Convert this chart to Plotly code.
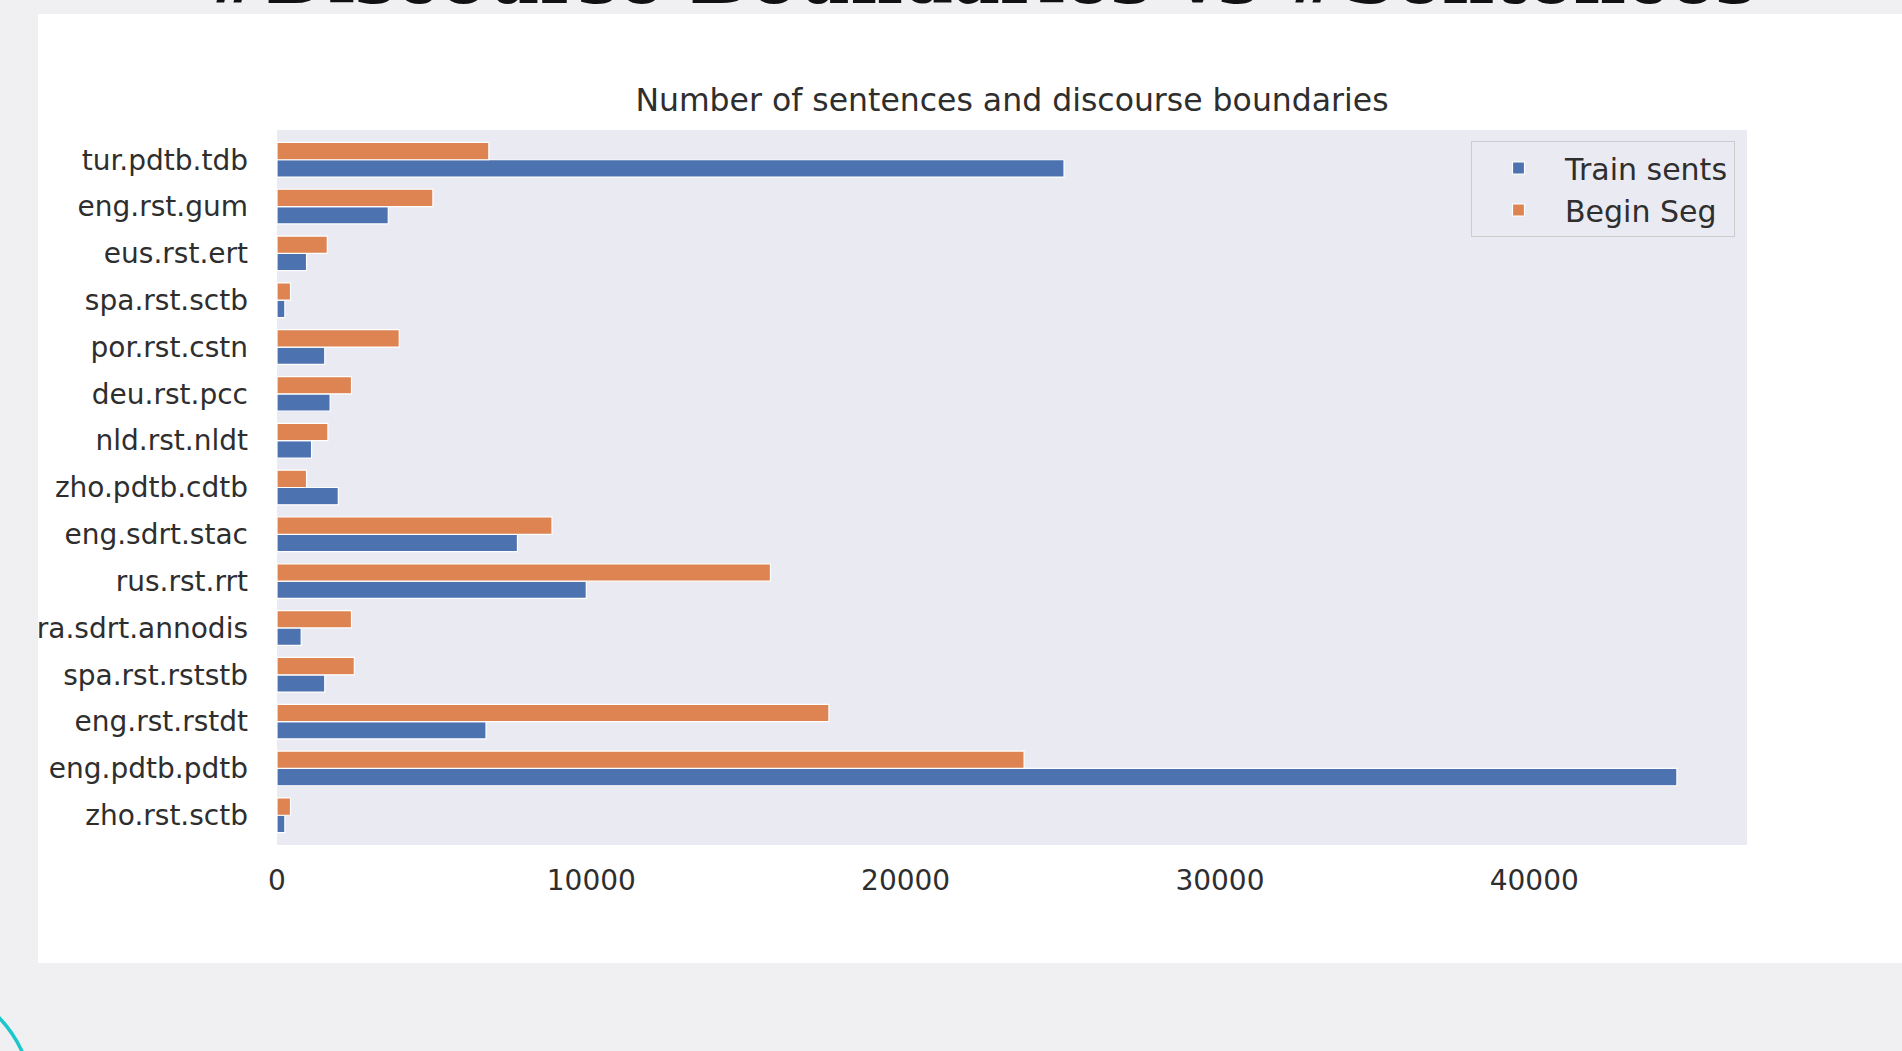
import plotly.graph_objects as go

# ---- data (bottom to top, as drawn) ----
categories = ["zho.rst.sctb", "eng.pdtb.pdtb", "eng.rst.rstdt", "spa.rst.rststb",
              "fra.sdrt.annodis", "rus.rst.rrt", "eng.sdrt.stac", "zho.pdtb.cdtb",
              "nld.rst.nldt", "deu.rst.pcc", "por.rst.cstn", "spa.rst.sctb",
              "eus.rst.ert", "eng.rst.gum", "tur.pdtb.tdb"]
train_sents = [250, 44540, 6650, 1520, 770, 9840, 7650, 1950,
               1100, 1690, 1520, 250, 940, 3540, 25040]
begin_seg = [430, 23770, 17560, 2460, 2370, 15700, 8750, 940,
             1620, 2370, 3890, 430, 1600, 4960, 6740]
x_ticks = [0, 10000, 20000, 30000, 40000]

W, H = 1902, 1051
ML, MR, MT, MB = 277, 155, 130, 206
PW, PH = W - ML - MR, H - MT - MB


def px_x(p):
    return (p - ML) / PW


def px_y(p):
    return (H - MB - p) / PH


BLUE = "#4c72b0"
ORANGE = "#dd8452"
TXT = "#2e2e2e"
SLIDE = "#f0f0f2"

fig = go.Figure()
fig.add_trace(go.Bar(y=categories, x=train_sents, orientation="h", name="Train sents",
                     marker=dict(color=BLUE, line=dict(color="white", width=1.2)),
                     legendgroup="a"))
fig.add_trace(go.Bar(y=categories, x=begin_seg, orientation="h", name="Begin Seg",
                     marker=dict(color=ORANGE, line=dict(color="white", width=1.2)),
                     legendgroup="b"))

fig.update_layout(
    width=W, height=H,
    margin=dict(l=ML, r=MR, t=MT, b=MB, pad=0),
    paper_bgcolor="white",
    plot_bgcolor="#eaeaf2",
    barmode="group", bargap=0.26, bargroupgap=0,
    font=dict(family="DejaVu Sans", color=TXT, size=28),
    title=dict(text="Number of sentences and discourse boundaries",
               x=1012 / W, xanchor="center",
               y=1 - 99.5 / H, yanchor="middle",
               font=dict(family="DejaVu Sans", size=31.5, color=TXT)),
    xaxis=dict(range=[0, 46770], tickvals=x_ticks, ticktext=[str(v) for v in x_ticks],
               showgrid=False, zeroline=False, showline=False, ticks="",
               ticklabelstandoff=16, tickfont=dict(size=28, color=TXT)),
    yaxis=dict(categoryorder="array", categoryarray=categories,
               range=[-0.635, 14.635], showgrid=False, zeroline=False, showline=False,
               ticks="", ticklabelstandoff=28, tickfont=dict(size=28, color=TXT)),
    legend=dict(x=px_x(1735), xanchor="right", y=px_y(141), yanchor="top",
                bgcolor="#eaeaf2", bordercolor="#cccccc", borderwidth=1,
                font=dict(size=30, color=TXT), tracegroupgap=9, traceorder="normal",
                itemwidth=83),
    showlegend=True,
)

shapes = [
    # slide background strips around the white panel
    dict(type="rect", xref="paper", yref="paper", x0=px_x(-5), x1=px_x(38),
         y0=px_y(H + 5), y1=px_y(-5), fillcolor=SLIDE, line=dict(width=0), layer="above"),
    dict(type="rect", xref="paper", yref="paper", x0=px_x(-5), x1=px_x(W + 5),
         y0=px_y(14), y1=px_y(-5), fillcolor=SLIDE, line=dict(width=0), layer="above"),
    dict(type="rect", xref="paper", yref="paper", x0=px_x(-5), x1=px_x(W + 5),
         y0=px_y(H + 5), y1=px_y(963), fillcolor=SLIDE, line=dict(width=0), layer="above"),
    # decorative teal ring at the bottom-left corner
    dict(type="circle", xref="paper", yref="paper", x0=px_x(-211), x1=px_x(33),
         y0=px_y(1224), y1=px_y(980), line=dict(color="#1cc7cb", width=3.5),
         fillcolor="rgba(0,0,0,0)", layer="above"),
]
fig.update_layout(shapes=shapes)

fig.add_annotation(text="#Discourse Boundaries vs #Sentences", xref="paper", yref="paper",
                   x=px_x(980), xanchor="center", y=px_y(22), yanchor="bottom",
                   showarrow=False,
                   font=dict(family="DejaVu Serif", size=72, color="#111111", weight=700))

fig.write_html("out.html")
